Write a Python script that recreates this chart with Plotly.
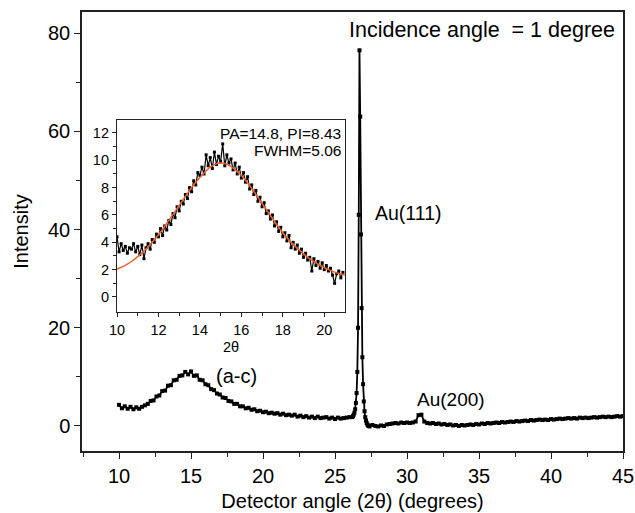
import numpy as np
import plotly.graph_objects as go

# ---------------- main pattern data ----------------
seg1_x = np.round(np.arange(10.0, 26.0 + 1e-9, 0.2), 2)
seg1_y = [4.3, 3.6, 4.0, 3.5, 3.9, 3.4, 3.8, 3.5, 3.9, 4.2,
          4.5, 5.1, 5.2, 6.0, 6.2, 7.1, 7.2, 8.2, 8.3, 9.3,
          9.4, 10.2, 10.3, 11.0, 10.5, 11.1, 10.2, 10.3, 9.4, 9.3,
          8.5, 8.3, 7.5, 7.3, 6.6, 6.4, 5.8, 5.7, 5.1, 5.0,
          4.5, 4.5, 4.0, 4.0, 3.6, 3.7, 3.3, 3.4, 3.0, 3.1,
          2.8, 2.9, 2.6, 2.7, 2.5, 2.6, 2.3, 2.5, 2.2, 2.3,
          2.1, 2.3, 1.9, 2.1, 1.8, 2.0, 1.7, 1.9, 1.6, 1.9,
          1.6, 1.7, 1.8, 1.5, 1.7, 1.4, 1.7, 1.5, 1.6, 1.7,
          1.8]
seg2_x = np.round(np.arange(26.2, 27.4 + 1e-9, 0.05), 2)
seg2_y = [1.8, 2.0, 2.3, 2.7, 3.4, 4.7, 6.7, 11.0, 20.0, 43.0,
          76.5, 63.0, 39.0, 24.0, 14.0, 8.5, 5.0, 3.0, 1.8, 1.1,
          0.6, 0.3, 0.1, 0.0, -0.1]
seg3_x = np.round(np.arange(27.6, 45.0 + 1e-9, 0.2), 2)
seg3_y = [0.2, 0.0, -0.1, 0.1, 0.0, 0.3, 0.4, 0.5, 0.6, 0.5,
          0.7, 0.6, 0.7, 0.6, 0.7, 0.9, 2.2, 2.3, 0.9, 0.6,
          0.5, 0.6, 0.4, 0.5, 0.3, 0.4, 0.2, 0.3, 0.1, 0.2,
          0.0, 0.2, 0.1, 0.2, 0.3, 0.2, 0.4, 0.3, 0.5, 0.4,
          0.6, 0.5, 0.6, 0.7, 0.6, 0.8, 0.7, 0.8, 0.9, 0.8,
          1.0, 0.9, 1.0, 1.1, 1.0, 1.2, 1.1, 1.2, 1.3, 1.2,
          1.3, 1.2, 1.4, 1.3, 1.4, 1.5, 1.4, 1.5, 1.6, 1.5,
          1.6, 1.5, 1.7, 1.6, 1.7, 1.6, 1.7, 1.8, 1.7, 1.8,
          1.9, 1.8, 1.9, 1.8, 1.9, 2.0, 1.9, 2.0]

main_x = np.concatenate([seg1_x, seg2_x, seg3_x])
main_y = seg1_y + seg2_y + seg3_y

# ---------------- inset data ----------------
inset_x = np.round(np.arange(10.0, 20.9 + 1e-9, 0.1), 2)
inset_y = [4.4, 3.3, 3.9, 3.4, 3.7, 3.2, 3.6, 3.5, 3.9, 3.3,
           3.7, 3.1, 3.8, 2.8, 3.6, 3.9, 3.5, 4.2, 4.0, 4.6,
           4.4, 5.0, 4.5, 5.2, 4.9, 5.6, 5.3, 6.1, 5.8, 6.6,
           6.3, 7.0, 6.8, 7.5, 7.2, 8.0, 7.7, 8.5, 8.2, 9.1,
           8.9, 9.5, 9.0, 10.4, 9.6, 10.2, 9.4, 10.6, 9.7, 10.3,
           9.9, 11.2, 9.6, 10.4, 9.8, 10.1, 9.3, 9.8, 9.0, 9.5,
           8.7, 9.1, 8.4, 8.8, 7.9, 8.2, 7.5, 7.8, 7.0, 7.3,
           6.6, 6.9, 6.1, 6.3, 5.7, 6.0, 5.2, 5.5, 4.8, 5.1,
           4.4, 4.7, 4.1, 4.5, 3.6, 4.0, 3.5, 3.8, 3.2, 3.5,
           2.9, 3.2, 2.7, 2.9, 1.9, 2.8, 2.3, 2.6, 2.1, 2.5,
           2.0, 2.3, 1.9, 2.1, 1.6, 1.0, 1.7, 1.9, 1.4, 1.8]

fit_x = np.round(np.arange(10.0, 21.0 + 1e-9, 0.25), 2)
fit_y = [2.05, 2.2, 2.4, 2.65, 2.95, 3.3, 3.65, 4.1, 4.55, 5.05,
         5.6, 6.15, 6.7, 7.25, 7.8, 8.3, 8.75, 9.15, 9.5, 9.72,
         9.8, 9.75, 9.55, 9.25, 8.9, 8.45, 7.95, 7.4, 6.85, 6.3,
         5.75, 5.2, 4.7, 4.25, 3.85, 3.5, 3.15, 2.85, 2.6, 2.35,
         2.15, 1.98, 1.82, 1.7, 1.6]

main_ticks = [0, 20, 40, 60, 80]
x_ticks = [10, 15, 20, 25, 30, 35, 40, 45]
inset_yticks = [0, 2, 4, 6, 8, 10, 12]
inset_xticks = [10, 12, 14, 16, 18, 20]

FONT = "Liberation Sans, Arial, sans-serif"
AX = "#222222"

fig = go.Figure()
fig.add_trace(go.Scatter(
    x=main_x, y=main_y, mode="lines+markers",
    line=dict(color="black", width=1.8),
    marker=dict(symbol="square", size=4, color="black"),
    showlegend=False, xaxis="x", yaxis="y", cliponaxis=False))
fig.add_trace(go.Scatter(
    x=inset_x, y=inset_y, mode="lines+markers",
    line=dict(color="black", width=1.2),
    marker=dict(symbol="square", size=3, color="black"),
    showlegend=False, xaxis="x2", yaxis="y2"))
fig.add_trace(go.Scatter(
    x=fit_x, y=fit_y, mode="lines", line=dict(color="#F0602A", width=1.5, shape="spline"),
    showlegend=False, xaxis="x2", yaxis="y2"))

common = dict(showgrid=False, zeroline=False, automargin=False, ticks="outside", tickcolor=AX)

fig.update_layout(
    width=635, height=513, autosize=False,
    margin=dict(l=82, r=12, t=12, b=62),
    paper_bgcolor="white", plot_bgcolor="white",
    font=dict(family=FONT, color="black"),
    xaxis=dict(domain=[0, 1], range=[7.43, 45], tickvals=x_ticks,
               ticklen=6, tickwidth=1.2,
               minor=dict(tickvals=[7.5, 12.5, 17.5, 22.5, 27.5, 32.5, 37.5, 42.5],
                          ticklen=4, tickcolor=AX, ticks="outside"),
               showline=True, linecolor=AX, linewidth=1.5, mirror=True,
               tickfont=dict(size=20, family=FONT),
               title=dict(text="Detector angle (2θ) (degrees)", font=dict(size=20, family=FONT), standoff=8),
               **common),
    yaxis=dict(domain=[0, 1], range=[-5.1, 84.3], tickvals=main_ticks,
               ticklen=6, tickwidth=1.2,
               minor=dict(tickvals=[10, 30, 50, 70], ticklen=4, tickcolor=AX, ticks="outside"),
               showline=True, linecolor=AX, linewidth=1.5, mirror=True,
               tickfont=dict(size=20, family=FONT),
               title=dict(text="Intensity", font=dict(size=20, family=FONT), standoff=14),
               **common),
    xaxis2=dict(domain=[0.0647, 0.4861], range=[10, 21], anchor="y2", tickvals=inset_xticks,
                ticklen=4,
                minor=dict(tickvals=[11, 13, 15, 17, 19], ticklen=2.5, tickcolor=AX, ticks="outside"),
                showline=True, linecolor=AX, linewidth=1.2, mirror=True,
                tickfont=dict(size=14.5, family=FONT),
                **common),
    yaxis2=dict(domain=[0.3166, 0.754], range=[-1.1, 12.95], anchor="x2", tickvals=inset_yticks,
                ticklen=4,
                minor=dict(tickvals=[1, 3, 5, 7, 9, 11], ticklen=2.5, tickcolor=AX, ticks="outside"),
                showline=True, linecolor=AX, linewidth=1.2, mirror=True,
                tickfont=dict(size=14.5, family=FONT),
                **common),
)

ann = [
    dict(text="Incidence angle \u00a0= 1 degree", xref="paper", yref="paper", x=0.988, y=0.959,
         xanchor="right", yanchor="middle", font=dict(size=21.5)),
    dict(text="Au(111)", xref="x", yref="y", x=27.64, y=43.4, xanchor="left", yanchor="middle",
         font=dict(size=19.5)),
    dict(text="Au(200)", xref="x", yref="y", x=30.56, y=5.3, xanchor="left", yanchor="middle",
         font=dict(size=19)),
    dict(text="(a-c)", xref="x", yref="y", x=16.6, y=10.2, xanchor="left", yanchor="middle",
         font=dict(size=20)),
    dict(text="PA=14.8, PI=8.43", xref="x2", yref="y2", x=20.9, y=11.95, xanchor="right",
         yanchor="middle", font=dict(size=15.5)),
    dict(text="FWHM=5.06", xref="x2", yref="y2", x=20.9, y=10.75, xanchor="right",
         yanchor="middle", font=dict(size=15.5)),
    dict(text="2θ", xref="x2 domain", yref="paper", x=0.5, y=0.238, xanchor="center",
         yanchor="middle", font=dict(size=14.5)),
]
for a in ann:
    a["showarrow"] = False
    a["font"]["family"] = FONT
    a["font"]["color"] = "black"
fig.update_layout(annotations=ann)

fig.write_html(
    "out.html",
    config={"displayModeBar": False, "responsive": False},
    post_script="document.documentElement.style.margin='0px';document.body.style.margin='0px';"
                "document.body.style.overflow='hidden';document.documentElement.style.overflow='hidden';",
)
